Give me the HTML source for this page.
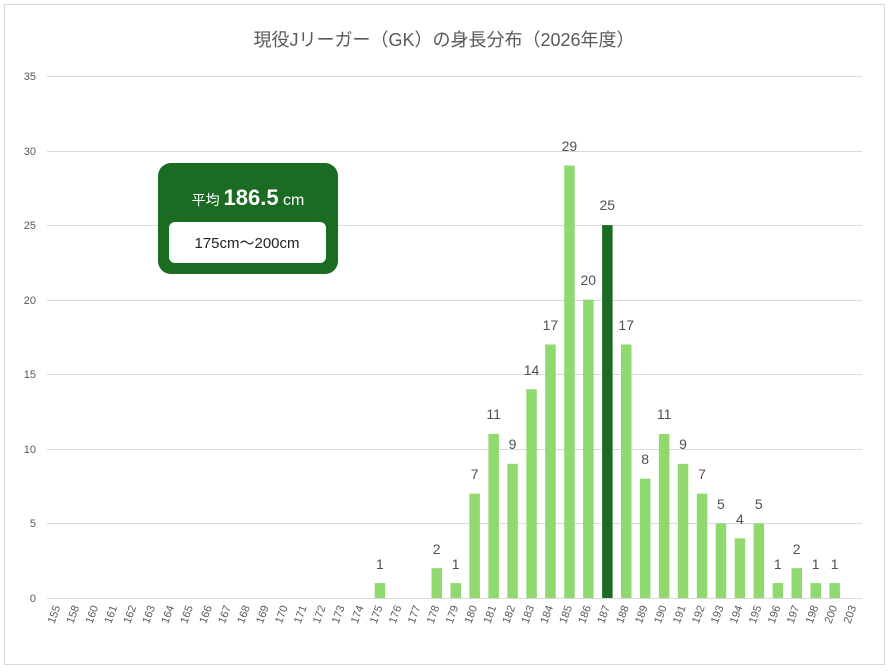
<!DOCTYPE html><html><head><meta charset="utf-8"><style>body{margin:0;background:#fff}svg{display:block;font-family:"Liberation Sans","Noto Sans CJK JP",sans-serif}</style></head><body>
<svg width="888" height="672" xmlns="http://www.w3.org/2000/svg">
<rect x="4.5" y="4.5" width="880" height="660" fill="#fff" stroke="#d9d9d9"/>
<text x="444" y="46" text-anchor="middle" font-size="18" fill="#595959">現役Jリーガー（GK）の身長分布（2026年度）</text>
<g stroke="#d9d9d9" stroke-width="1">
<line x1="47" x2="862" y1="76.5" y2="76.5"/><line x1="47" x2="862" y1="151.5" y2="151.5"/><line x1="47" x2="862" y1="225.5" y2="225.5"/><line x1="47" x2="862" y1="300.5" y2="300.5"/><line x1="47" x2="862" y1="374.5" y2="374.5"/><line x1="47" x2="862" y1="449.5" y2="449.5"/><line x1="47" x2="862" y1="523.5" y2="523.5"/><line x1="47" x2="862" y1="598.5" y2="598.5"/>
</g>
<g font-size="11" fill="#595959" text-anchor="end">
<text x="36" y="80">35</text><text x="36" y="155">30</text><text x="36" y="229">25</text><text x="36" y="304">20</text><text x="36" y="378">15</text><text x="36" y="453">10</text><text x="36" y="527">5</text><text x="36" y="602">0</text>
</g>
<g transform="translate(1,0)">
<g fill="#8fd96f">
<rect x="373.7" y="583.1" width="10.5" height="14.9"/>
<rect x="430.5" y="568.2" width="10.5" height="29.8"/>
<rect x="449.5" y="583.1" width="10.5" height="14.9"/>
<rect x="468.4" y="493.6" width="10.5" height="104.4"/>
<rect x="487.4" y="433.9" width="10.5" height="164.1"/>
<rect x="506.3" y="463.8" width="10.5" height="134.2"/>
<rect x="525.3" y="389.2" width="10.5" height="208.8"/>
<rect x="544.2" y="344.5" width="10.5" height="253.5"/>
<rect x="563.2" y="165.5" width="10.5" height="432.5"/>
<rect x="582.1" y="299.7" width="10.5" height="298.3"/>
<rect x="601.1" y="225.1" width="10.5" height="372.9" fill="#1b6b23"/>
<rect x="620" y="344.5" width="10.5" height="253.5"/>
<rect x="638.9" y="478.7" width="10.5" height="119.3"/>
<rect x="657.9" y="433.9" width="10.5" height="164.1"/>
<rect x="676.8" y="463.8" width="10.5" height="134.2"/>
<rect x="695.8" y="493.6" width="10.5" height="104.4"/>
<rect x="714.7" y="523.4" width="10.5" height="74.6"/>
<rect x="733.7" y="538.3" width="10.5" height="59.7"/>
<rect x="752.6" y="523.4" width="10.5" height="74.6"/>
<rect x="771.6" y="583.1" width="10.5" height="14.9"/>
<rect x="790.5" y="568.2" width="10.5" height="29.8"/>
<rect x="809.5" y="583.1" width="10.5" height="14.9"/>
<rect x="828.4" y="583.1" width="10.5" height="14.9"/>
</g>
<g font-size="14" fill="#505050" text-anchor="middle" transform="translate(0.2,-2)">
<text x="378.7" y="571">1</text><text x="435.5" y="556">2</text><text x="454.5" y="571">1</text><text x="473.4" y="481">7</text><text x="492.4" y="421">11</text><text x="511.3" y="451">9</text><text x="530.3" y="377">14</text><text x="549.2" y="332">17</text><text x="568.2" y="153">29</text><text x="587.1" y="287">20</text><text x="606.1" y="212">25</text><text x="625" y="332">17</text><text x="643.9" y="466">8</text><text x="662.9" y="421">11</text><text x="681.8" y="451">9</text><text x="700.8" y="481">7</text><text x="719.7" y="511">5</text><text x="738.7" y="526">4</text><text x="757.6" y="511">5</text><text x="776.6" y="571">1</text><text x="795.5" y="556">2</text><text x="814.5" y="571">1</text><text x="833.4" y="571">1</text>
</g>
</g>
<g font-size="11" fill="#595959" text-anchor="end">
<text transform="translate(60.5,607) rotate(-70)">155</text>
<text transform="translate(79.4,607) rotate(-70)">158</text>
<text transform="translate(98.4,607) rotate(-70)">160</text>
<text transform="translate(117.3,607) rotate(-70)">161</text>
<text transform="translate(136.3,607) rotate(-70)">162</text>
<text transform="translate(155.2,607) rotate(-70)">163</text>
<text transform="translate(174.2,607) rotate(-70)">164</text>
<text transform="translate(193.1,607) rotate(-70)">165</text>
<text transform="translate(212.1,607) rotate(-70)">166</text>
<text transform="translate(231,607) rotate(-70)">167</text>
<text transform="translate(250,607) rotate(-70)">168</text>
<text transform="translate(268.9,607) rotate(-70)">169</text>
<text transform="translate(287.9,607) rotate(-70)">170</text>
<text transform="translate(306.8,607) rotate(-70)">171</text>
<text transform="translate(325.8,607) rotate(-70)">172</text>
<text transform="translate(344.7,607) rotate(-70)">173</text>
<text transform="translate(363.7,607) rotate(-70)">174</text>
<text transform="translate(382.7,607) rotate(-70)">175</text>
<text transform="translate(401.6,607) rotate(-70)">176</text>
<text transform="translate(420.6,607) rotate(-70)">177</text>
<text transform="translate(439.5,607) rotate(-70)">178</text>
<text transform="translate(458.5,607) rotate(-70)">179</text>
<text transform="translate(477.4,607) rotate(-70)">180</text>
<text transform="translate(496.4,607) rotate(-70)">181</text>
<text transform="translate(515.3,607) rotate(-70)">182</text>
<text transform="translate(534.3,607) rotate(-70)">183</text>
<text transform="translate(553.2,607) rotate(-70)">184</text>
<text transform="translate(572.2,607) rotate(-70)">185</text>
<text transform="translate(591.1,607) rotate(-70)">186</text>
<text transform="translate(610.1,607) rotate(-70)">187</text>
<text transform="translate(629,607) rotate(-70)">188</text>
<text transform="translate(647.9,607) rotate(-70)">189</text>
<text transform="translate(666.9,607) rotate(-70)">190</text>
<text transform="translate(685.8,607) rotate(-70)">191</text>
<text transform="translate(704.8,607) rotate(-70)">192</text>
<text transform="translate(723.7,607) rotate(-70)">193</text>
<text transform="translate(742.7,607) rotate(-70)">194</text>
<text transform="translate(761.6,607) rotate(-70)">195</text>
<text transform="translate(780.6,607) rotate(-70)">196</text>
<text transform="translate(799.5,607) rotate(-70)">197</text>
<text transform="translate(818.5,607) rotate(-70)">198</text>
<text transform="translate(837.4,607) rotate(-70)">200</text>
<text transform="translate(856.4,607) rotate(-70)">203</text>
</g>
<rect x="158" y="163" width="180" height="111" rx="13" fill="#1b6b23"/>
<rect x="169" y="222" width="157" height="41" rx="6" fill="#fff"/>
<text x="248" y="205" text-anchor="middle" fill="#fff"><tspan font-size="14">平均 </tspan><tspan font-size="22" font-weight="bold">186.5</tspan><tspan font-size="16"> cm</tspan></text>
<text x="247" y="248" text-anchor="middle" font-size="15" fill="#222">175cm〜200cm</text>
</svg>
</body></html>
